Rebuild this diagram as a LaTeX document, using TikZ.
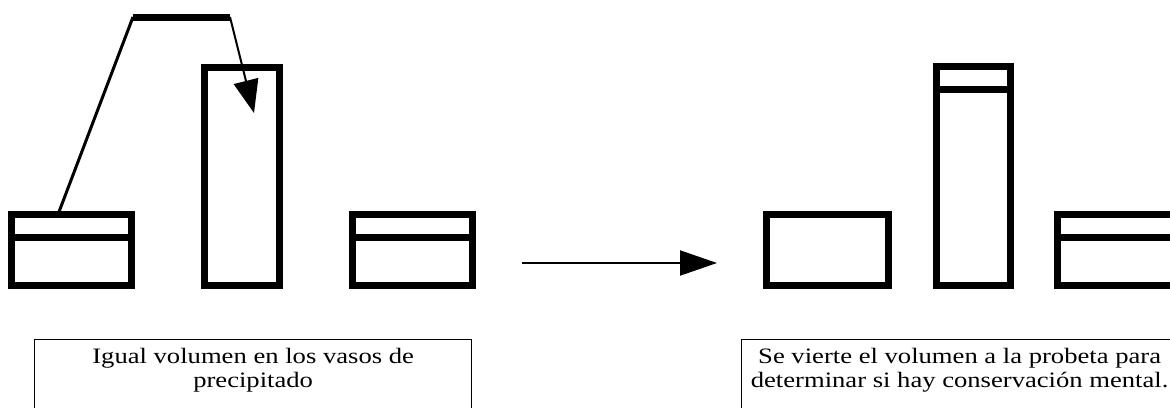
\documentclass[tikz,border=0pt]{standalone}
\usepackage{fontspec}
\setmainfont{Liberation Serif}
\newfontfamily\captionface[FakeStretch=1.21]{Liberation Serif}
\usetikzlibrary{arrows.meta}

\tikzset{
  vessel/.style={draw, line width=7pt, inner sep=0pt, outer sep=0pt, anchor=north west},
  level/.style={line width=7pt},
  captbox/.style={draw, line width=1.3pt, inner sep=0pt, anchor=north west},
  capttext/.style={align=center, inner sep=0pt, anchor=base,
    font=\captionface\fontsize{22}{24}\selectfont},
  pourline/.style={line width=3pt, line join=round},
  flowarrow/.style={line width=2pt, -{Triangle[length=37pt,width=25pt]}},
}

\begin{document}
\begin{tikzpicture}[x=1pt, y=-1pt]
  \useasboundingbox (0,0) rectangle (1170,407);
  \clip (0,0) rectangle (1170,407);

  % --- initial state: two beakers and an empty graduated cylinder ---
  \node[vessel, minimum width=120pt, minimum height=71pt] (b1) at (11.5,214.5) {};
  \node[vessel, minimum width=75pt, minimum height=218pt] (c1) at (204.5,67.5) {};
  \node[vessel, minimum width=120pt, minimum height=71pt] (b2) at (352.5,214.5) {};
  \draw[level] (b1.west |- 0,237) -- (b1.east |- 0,237);
  \draw[level] (b2.west |- 0,237) -- (b2.east |- 0,237);

  % --- pouring from the first beaker into the cylinder ---
  \coordinate (lip) at (b1.north west -| 58,0);
  \coordinate (riseTop) at (133,17);
  \coordinate (runEnd) at (230,17);
  \coordinate (pourTip) at (254,113);
  \draw[pourline] (lip) -- (riseTop);
  \draw[line width=7pt] (riseTop) -- (runEnd);
  \draw[line width=2pt, -{Triangle[length=33pt,width=25pt]}] (runEnd) -- (pourTip);

  % --- transition arrow ---
  \coordinate (flowStart) at (522,263);
  \coordinate (flowEnd) at (717,263);
  \draw[flowarrow] (flowStart) -- (flowEnd);

  % --- final state: emptied beaker, filled cylinder, full beaker ---
  \node[vessel, minimum width=122pt, minimum height=71pt] (b3) at (766.5,214.5) {};
  \node[vessel, minimum width=74pt, minimum height=219pt] (c2) at (936.5,66.5) {};
  \node[vessel, minimum width=130pt, minimum height=71pt] (b4) at (1057.5,214.5) {};
  \draw[level] (c2.west |- 0,89.5) -- (c2.east |- 0,89.5);
  \draw[level] (b4.west |- 0,237) -- (b4.east |- 0,237);

  % --- captions (base anchor sits on the last line) ---
  \node[captbox, minimum width=437pt, minimum height=90pt] (capL) at (34,339) {};
  \node[capttext] (txtL) at ([yshift=-48pt]capL.north) {Igual volumen en los vasos de\\precipitado};

  \node[captbox, minimum width=434pt, minimum height=90pt] (capR) at (741,339) {};
  \node[capttext] (txtR) at ([xshift=1pt, yshift=-48pt]capR.north) {Se vierte el volumen a la probeta para\\determinar si hay conservación mental.};
\end{tikzpicture}
\end{document}
